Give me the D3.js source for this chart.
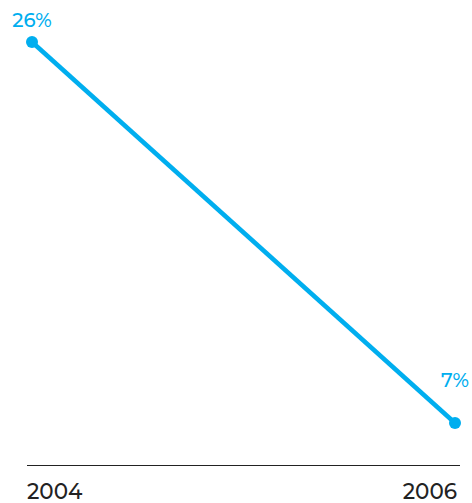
<!DOCTYPE html>
<html><head><meta charset="utf-8">
<script src="https://cdn.jsdelivr.net/npm/d3@7"></script>
<style>body{margin:0;background:#fff}svg{display:block}</style>
</head><body>
<script>
const years = ["2004", "2006"];
const values = [26, 7];
const labels = ["26%", "7%"];

const W = 472, H = 503;
const svg = d3.select("body").append("svg").attr("width", W).attr("height", H);
const x = d3.scalePoint().domain(years).range([32, 455]);
const y = d3.scaleLinear().domain([7, 26]).range([423, 42]);
const color = "#00aeef";
const font = "Montserrat, 'Open Sans', 'DejaVu Sans', sans-serif";

svg.append("line").attr("x1", 27).attr("x2", 460).attr("y1", 465.5).attr("y2", 465.5)
  .attr("stroke", "#222").attr("stroke-width", 1.2);

const data = years.map((d, i) => ({year: d, v: values[i], lab: labels[i]}));
svg.append("path").datum(data)
  .attr("d", d3.line().x(d => x(d.year)).y(d => y(d.v)))
  .attr("fill", "none").attr("stroke", color).attr("stroke-width", 4.5);
svg.selectAll("circle.p").data(data).join("circle")
  .attr("cx", d => x(d.year)).attr("cy", d => y(d.v)).attr("r", 6).attr("fill", color);
svg.selectAll("text.v").data(data).join("text")
  .attr("x", d => x(d.year)).attr("y", (d, i) => y(d.v) - (i === 0 ? 15 : 36))
  .attr("text-anchor", "middle").attr("fill", color)
  .attr("font-family", font).attr("font-weight", 500).attr("font-size", 19.5).text(d => d.lab);
svg.selectAll("text.yr").data(data).join("text")
  .attr("x", (d, i) => i === 0 ? 27 : 457).attr("y", 499)
  .attr("text-anchor", (d, i) => i === 0 ? "start" : "end")
  .attr("fill", "#222").attr("font-family", font).attr("font-weight", 500).attr("font-size", 21.5).text(d => d.year);
</script>
</body></html>
